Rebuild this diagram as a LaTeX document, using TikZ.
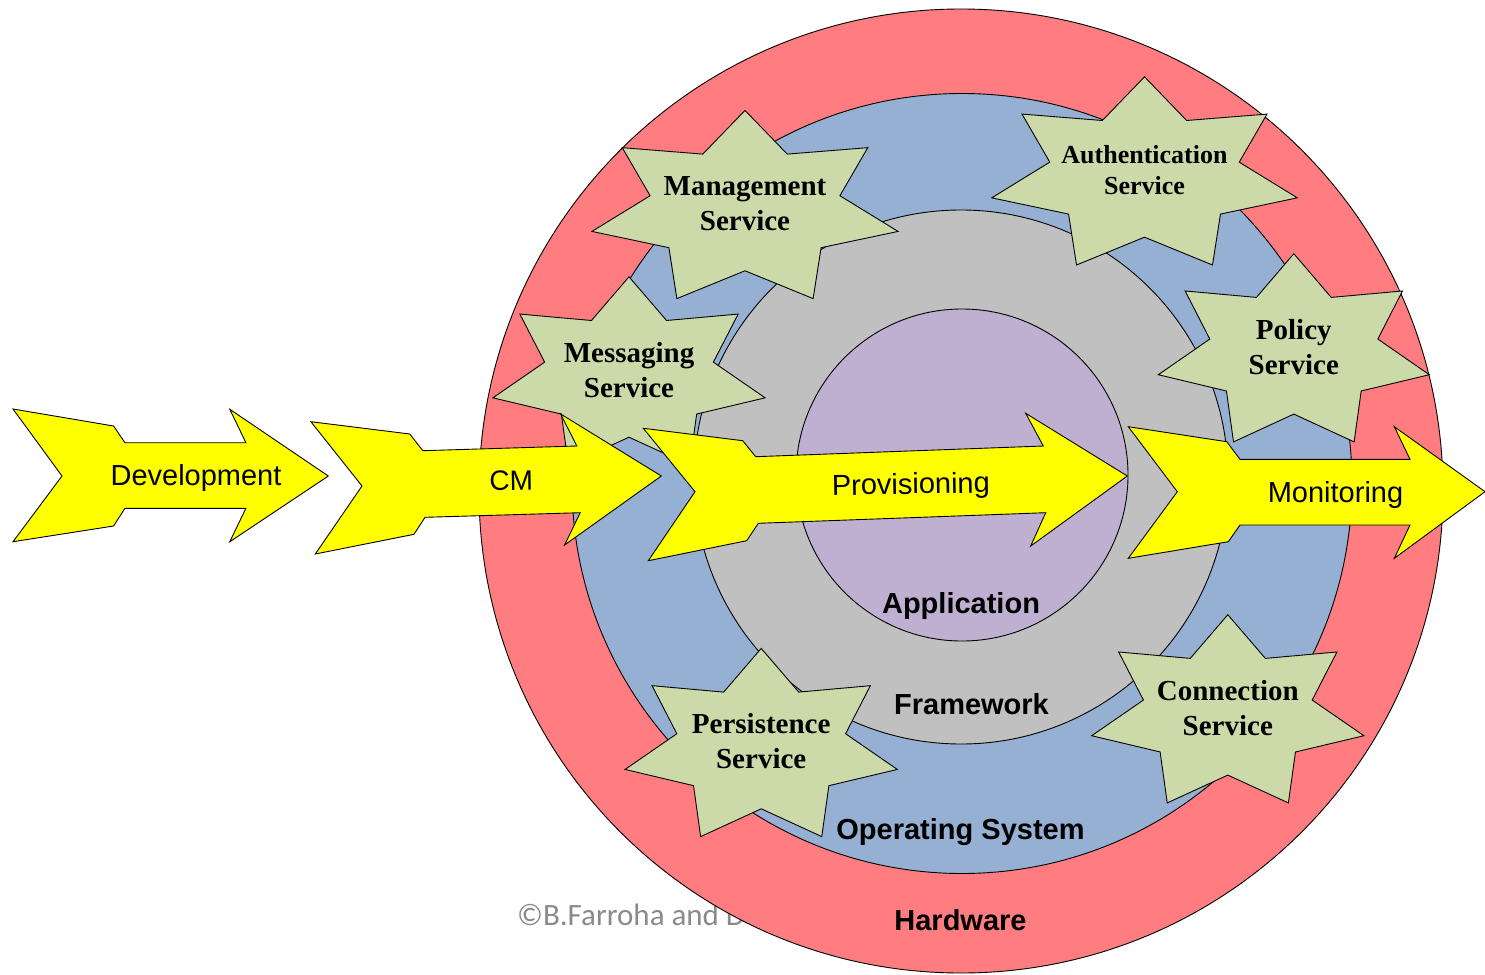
\documentclass[tikz,border=0pt]{standalone}
\usepackage{fontspec}
\newfontfamily\serifb{Liberation Serif}
\newfontfamily\sansf{Liberation Sans}
\newfontfamily\califont{Carlito}
\definecolor{hwred}{HTML}{FF7C80}
\definecolor{osblue}{HTML}{95B0D3}
\definecolor{fwgray}{HTML}{C0C0C0}
\definecolor{apppurple}{HTML}{BFB0D2}
\definecolor{stargreen}{HTML}{CCDAAA}
\definecolor{arrowyellow}{HTML}{FFFF00}
\definecolor{copygray}{HTML}{8A8A8A}
\tikzset{
  layer/.style={draw=black, line width=0.9pt},
  svcshape/.style={draw=black, line width=0.9pt, fill=stargreen, line join=miter},
  arrowshape/.style={draw=black, line width=0.9pt, fill=arrowyellow, line join=miter},
  svctext/.style={font=\serifb\bfseries\fontsize{29}{35}\selectfont, align=center, inner sep=0pt},
  arrowtext/.style={font=\sansf\fontsize{29}{35}\selectfont, inner sep=0pt, anchor=base},
  layertext/.style={font=\sansf\bfseries\fontsize{29}{35}\selectfont, inner sep=0pt, anchor=base}
}
% name, cx, cy, Rx, extra node options, text
\newcommand{\svcstar}[6]{%
  \draw[svcshape] plot[samples at={0,...,13}]
    ({#2+(0.62+0.38*(1-mod(\x,2)))*#4*cos(90+\x*360/14)},
     {#3-(0.62+0.38*(1-mod(\x,2)))*99*sin(90+\x*360/14)}) -- cycle;
  \node[svctext,#5] (#1) at (#2,#3-6) {#6};
}
\begin{document}
\begin{tikzpicture}[x=1pt,y=-1pt]
\useasboundingbox (0,0) rectangle (1485,974);

% copyright text (partly hidden by the hardware circle)
\node[font=\califont\fontsize{31}{37}\selectfont, text=copygray, inner sep=0pt, anchor=base west] (copy) at (517,925) {©B.Farroha and D};

% layers
\draw[layer, fill=hwred] (961,491) circle (482);
\draw[layer, fill=osblue] (962,483.5) circle (390);
\draw[layer, fill=fwgray] (961,477) circle (267);
\draw[layer, fill=apppurple] (962,475) circle (166);

% services
\svcstar{mgmt}{745}{209.4}{157}{}{Management\\Service}
\svcstar{auth}{1144.5}{175.8}{156.7}{font=\serifb\bfseries\fontsize{26}{31}\selectfont}{Authentication\\Service}
\svcstar{msg}{629}{375.8}{139.6}{}{Messaging\\Service}
\svcstar{policy}{1293.8}{352.7}{139}{}{Policy\\Service}
\svcstar{persist}{761.2}{747.4}{139.6}{}{Persistence\\Service}
\svcstar{conn}{1227.8}{713.7}{139.6}{}{Connection\\Service}

% process arrows
\draw[arrowshape] (13,409) -- (113.6,426) -- (124.9,442.7) -- (245.9,442.7) -- (229.8,409.3)
  -- (328.3,476) -- (229.8,541.7) -- (245.9,508.3) -- (124.9,508.3) -- (113.6,526)
  -- (13,541.7) -- (62,476) -- cycle;
\draw[arrowshape] (310.9,421.7) -- (409.8,434) -- (422.8,450.7) -- (576.8,446) -- (560.7,414)
  -- (661.3,476) -- (564.6,545) -- (580.2,512.7) -- (425,517.3) -- (414,534.3)
  -- (315.3,554) -- (362,486) -- cycle;
\draw[arrowshape] (643.3,428.3) -- (742.7,440.7) -- (755.7,456.7) -- (1043.3,446) -- (1025.7,413.3)
  -- (1127.3,476) -- (1030.7,546) -- (1045.7,512.7) -- (758.3,523.3) -- (746.7,540.7)
  -- (648.3,560.7) -- (695,491.7) -- cycle;
\draw[arrowshape] (1128.3,426.7) -- (1226.7,441.7) -- (1240,459.3) -- (1410,459.3) -- (1394.3,426.7)
  -- (1485,491.7) -- (1394.3,558.3) -- (1410,525) -- (1240,525) -- (1228.3,541.7)
  -- (1128.3,558.3) -- (1177.3,491.7) -- cycle;

% arrow labels
\node[arrowtext] (dev) at (196,485) {Development};
\node[arrowtext, font=\sansf\fontsize{28}{34}\selectfont, rotate=1] (cm) at (511.5,490) {CM};
\node[arrowtext, rotate=1] (prov) at (911,494) {Provisioning};
\node[arrowtext] (mon) at (1335.5,502) {Monitoring};

% layer labels
\node[layertext] (app) at (961,613.5) {Application};
\node[layertext] (fw) at (971.5,714.5) {Framework};
\node[layertext] (os) at (960.5,839.5) {Operating System};
\node[layertext] (hw) at (960.5,930) {Hardware};
\end{tikzpicture}
\end{document}
